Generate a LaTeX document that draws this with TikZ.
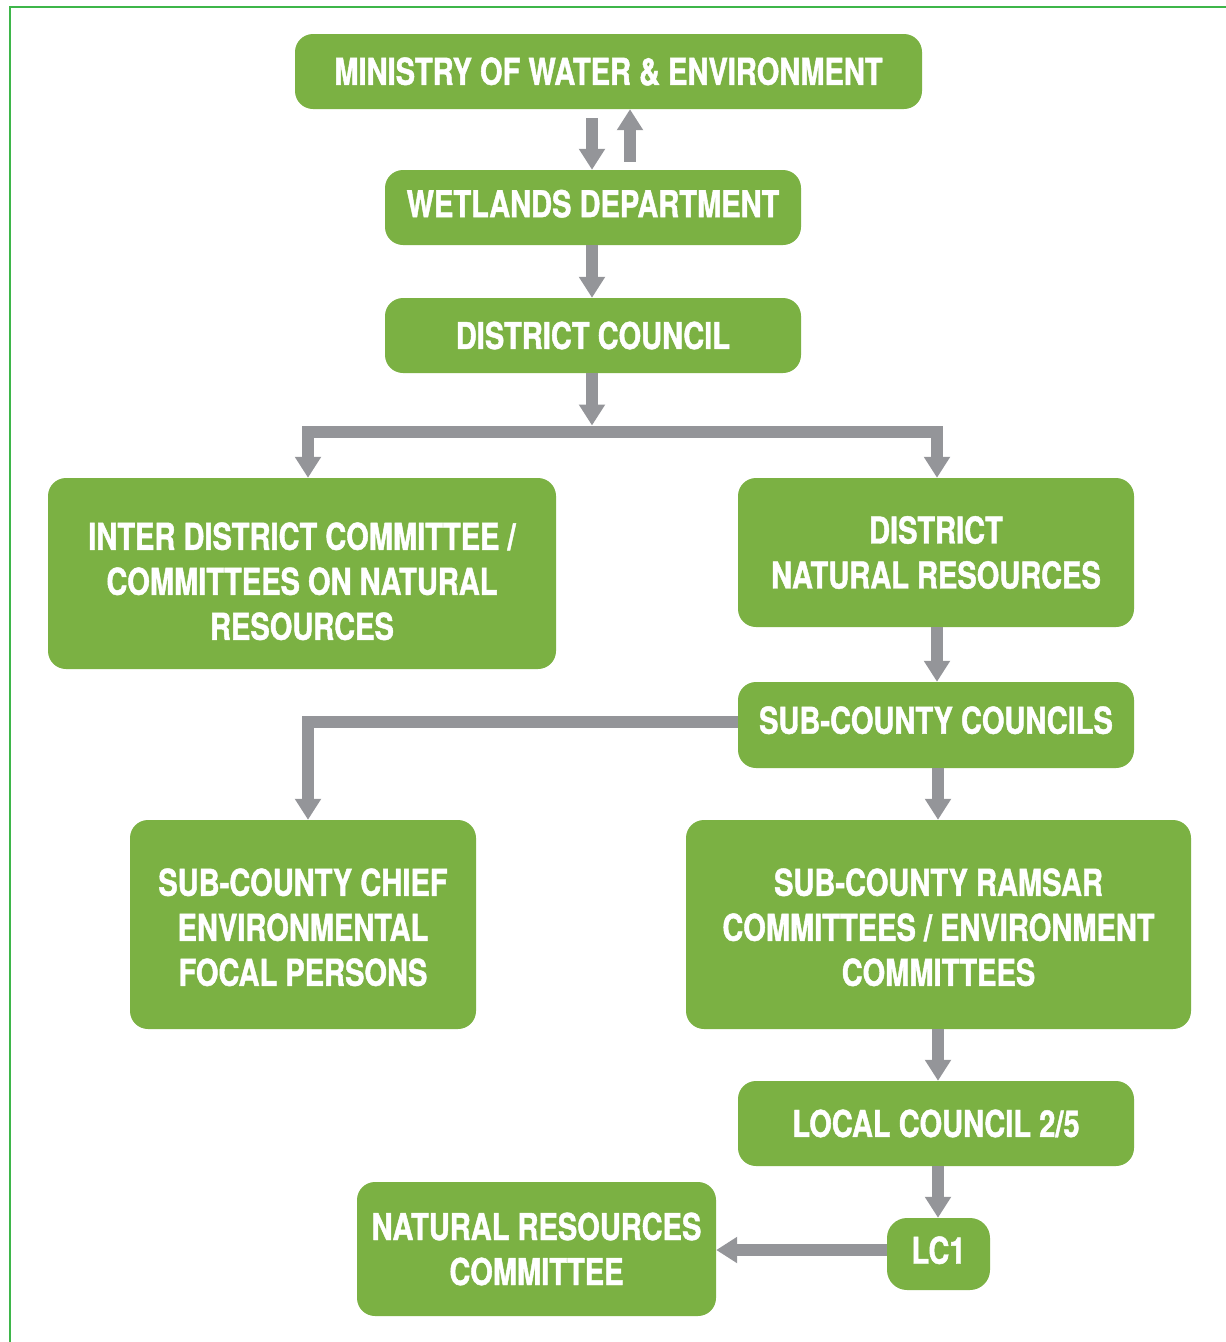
\documentclass[tikz,border=0pt]{standalone}
\usepackage{fontspec}
\usetikzlibrary{arrows.meta}
\newfontfamily\boxfont{TeX Gyre Heros}[FakeStretch=0.785, BoldFeatures={FakeBold=1.2}]
\definecolor{leaf}{RGB}{123,177,67}
\definecolor{pipe}{RGB}{148,149,153}
\definecolor{frame}{RGB}{62,182,74}
% invisible struts that move a box's text down (extra height) or up (extra depth)
\newcommand{\boxsink}[1]{\rule{0pt}{#1}}
\newcommand{\boxrise}[1]{\rule[-#1]{0pt}{0pt}}
\begin{document}
\begin{tikzpicture}[x=1pt,y=-1pt,
  box/.style={fill=leaf, rounded corners=18pt, text=white, align=center,
    inner sep=0pt, font=\boxfont\bfseries\fontsize{37}{45}\selectfont},
  arr/.style={draw=pipe, line width=12.5pt, line join=miter,
    -{Triangle[width=25pt,length=21pt]}}]
\useasboundingbox (0,0) rectangle (1226,1342);
% outer frame (open at right and bottom)
\draw[frame, line width=1.4pt] (10,1342) -- (10,7) -- (1226,7);

% boxes
\node[box, minimum width=627pt, minimum height=75pt] (min) at (608.5,71.5) {MINISTRY OF WATER \& ENVIRONMENT};
\node[box, minimum width=416pt, minimum height=75pt] (wet) at (593,207.5) {WETLANDS DEPARTMENT\boxrise{8pt}};
\node[box, minimum width=416pt, minimum height=75pt] (dc) at (593,335.5) {DISTRICT COUNCIL};
\node[box, minimum width=508pt, minimum height=191pt] (idc) at (302,573.5) {\boxsink{43pt}INTER DISTRICT COMMITTEE /\\COMMITTEES ON NATURAL\\RESOURCES};
\node[box, minimum width=396pt, minimum height=149pt] (dnr) at (936,552.5) {DISTRICT\\NATURAL RESOURCES};
\node[box, minimum width=396pt, minimum height=86pt] (scc) at (936,725) {SUB-COUNTY COUNCILS\boxrise{10pt}};
\node[box, minimum width=346pt, minimum height=209pt] (chief) at (303,924.5) {\boxsink{33pt}SUB-COUNTY CHIEF\\ENVIRONMENTAL\\FOCAL PERSONS};
\node[box, minimum width=505pt, minimum height=209pt] (ram) at (938.5,924.5) {\boxsink{33pt}SUB-COUNTY RAMSAR\\COMMITTEES / ENVIRONMENT\\COMMITTEES};
\node[box, minimum width=396pt, minimum height=85pt] (lc25) at (936,1123.5) {LOCAL COUNCIL 2/5};
\node[box, minimum width=103pt, minimum height=72pt, rounded corners=20pt] (lc1) at (938.5,1254) {LC1\boxrise{8pt}};
\node[box, minimum width=359pt, minimum height=134pt] (nrc) at (536.5,1249) {NATURAL RESOURCES\\COMMITTEE};

% junction under the district council
\coordinate (j) at (592,432);
% start of the link from LC1
\coordinate (lcout) at ([yshift=4pt]lc1.west);

% connectors
\draw[arr, shorten <=9pt] ([xshift=-1pt]wet.north |- min.south) -- ([xshift=-1pt]wet.north);
\draw[arr, shorten <=8pt] ([xshift=37pt]wet.north) -- ([xshift=37pt]wet.north |- min.south);
\draw[arr] ([xshift=-1pt]wet.south) -- ([xshift=-1pt]dc.north);
\draw[arr, shorten >=6.5pt] ([xshift=-1pt]dc.south) -- (j);
\draw[arr] (j) -| ([xshift=6pt]idc.north);
\draw[arr] (j) -| ([xshift=1pt]dnr.north);
\draw[arr] ([xshift=1pt]dnr.south) -- ([xshift=1pt]scc.north);
\draw[arr] ([yshift=3pt]scc.west) -| ([xshift=5pt]chief.north);
\draw[arr] ([xshift=2pt]scc.south) -- ([xshift=-0.5pt]ram.north);
\draw[arr] ([xshift=-0.5pt]ram.south) -- ([xshift=2pt]lc25.north);
\draw[arr] ([xshift=2pt]lc25.south) -- ([xshift=-0.5pt]lc1.north);
\draw[arr] (lcout) -- (nrc.east |- lcout);
\end{tikzpicture}
\end{document}
